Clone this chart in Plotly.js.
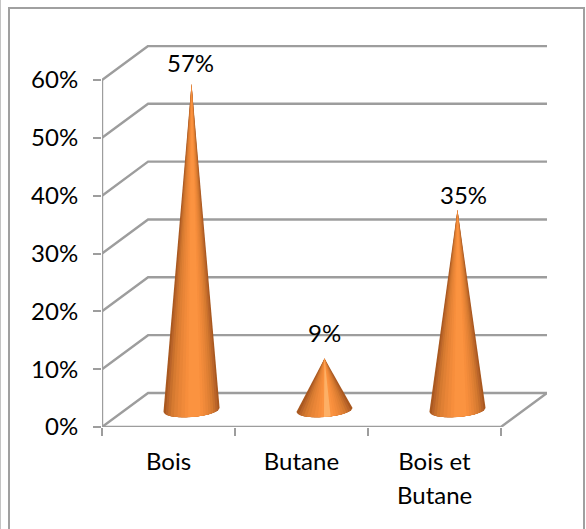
<!DOCTYPE html>
<html>
<head>
<meta charset="utf-8">
<script src="https://cdn.plot.ly/plotly-3.0.1.min.js"></script>
<style>
html,body{margin:0;padding:0;background:#fff;width:586px;height:529px;overflow:hidden}
#frame{position:absolute;left:8px;top:7px;width:573px;height:540px;border:2px solid #a0a0a0;box-sizing:content-box}
#edge{position:absolute;left:0;top:0;width:1px;height:529px;background:#c4c4c4}
#chart{position:absolute;left:0;top:0;width:586px;height:529px}
</style>
</head>
<body>
<div id="edge"></div>
<div id="frame"></div>
<div id="chart"></div>
<script>
const categoryLine1 = ['Bois', 'Butane', 'Bois et'];
const categoryLine2 = ['', '', 'Butane'];
const values = [57, 9, 35];
const yTicks = [0, 10, 20, 30, 40, 50, 60];
const yTickText = ['0%', '10%', '20%', '30%', '40%', '50%', '60%'];
const labelShiftX = [-1, 0, 6];
const labelShiftY = [21, 26, 15];

// oblique depth of the 3D box, in axis units
const depthX = 0.3465, depthY = 5.88;
const GRID = '#9d9d9d', FONT = 'Lato, Carlito, sans-serif', TXT = '#000', FS = 24;

// cone shading profile: [half-span centre offset, half-span, colour], outermost first
const shades = [
  [0, 1.00, '#a9581f'], [0.01, 0.93, '#b9642a'], [0.01, 0.85, '#c8702c'],
  [0.02, 0.76, '#d67a30'], [0.03, 0.66, '#e08034'], [0.05, 0.55, '#e98537'],
  [0.07, 0.44, '#f08a3a'], [0.09, 0.33, '#f78e3c'], [0.10, 0.22, '#fb9340']
];
const tipBoost = [null, '#fdb066', null];
const coneA = 0.211, coneB = 1.21, coneTilt = 0.35, coneK = 0.989;

const traces = [];

// gridlines and walls
const gx = [], gy = [];
yTicks.forEach(v => {
  gx.push(0, depthX, 3 + depthX, null);
  gy.push(v, v + depthY, v + depthY, null);
});
gx.push(0, 3, 3 + depthX, null, 0, 0);
gy.push(0, 0, depthY, null, 0, 60);
traces.push({x: gx, y: gy, mode: 'lines', line: {color: GRID, width: 2.4}, cliponaxis: false, hoverinfo: 'skip', showlegend: false});

// cones, painted as nested wedges sharing one apex
values.forEach((v, i) => {
  const cx = i + 0.5 + depthX / 2, cy = depthY / 2, apex = cy + v * coneK;
  const layers = shades.slice();
  if (tipBoost[i]) layers.push([0.10, 0.12, tipBoost[i]]);
  layers.forEach(s => {
    const uL = Math.max(-1, s[0] - s[1]), uR = Math.min(1, s[0] + s[1]);
    const xs = [cx], ys = [apex];
    for (let k = 0; k <= 40; k++) {
      const u = uL + (uR - uL) * k / 40;
      xs.push(cx + coneA * u);
      ys.push(cy - coneB * Math.sqrt(Math.max(0, 1 - u * u)) + coneTilt * u);
    }
    xs.push(cx); ys.push(apex);
    traces.push({x: xs, y: ys, mode: 'lines', line: {width: 0, color: s[2]}, fill: 'toself', fillcolor: s[2], hoverinfo: 'skip', showlegend: false});
  });
});

const annotations = values.map((v, i) => ({
  x: i + 0.5 + depthX / 2, y: depthY / 2 + v * coneK, xref: 'x', yref: 'y',
  text: v + '%', showarrow: false, xshift: labelShiftX[i], yshift: labelShiftY[i],
  font: {family: FONT, size: FS, color: TXT}
}));
categoryLine2.forEach((t, i) => {
  if (t) annotations.push({
    x: i + 0.5, xref: 'x', y: 0, yref: 'y', text: t, showarrow: false, yshift: -67,
    font: {family: FONT, size: FS, color: TXT}
  });
});

const layout = {
  width: 586, height: 529,
  margin: {l: 102, r: 39, t: 45, b: 102, pad: 0},
  paper_bgcolor: 'rgba(0,0,0,0)', plot_bgcolor: 'rgba(0,0,0,0)',
  showlegend: false, hovermode: false,
  font: {family: FONT, size: FS, color: TXT},
  xaxis: {
    range: [0, 3 + depthX], showgrid: false, zeroline: false, showline: false, fixedrange: true,
    tickmode: 'array', tickvals: [0.5, 1.5, 2.5], ticktext: categoryLine1, ticks: '',
    ticklabelstandoff: 18, tickfont: {family: FONT, size: FS, color: TXT},
    minor: {tickmode: 'array', tickvals: [0, 1, 2, 3], ticks: 'outside', ticklen: 8, tickwidth: 2, tickcolor: GRID, showgrid: false}
  },
  yaxis: {
    range: [0, 66.05], showgrid: false, zeroline: false, showline: false, fixedrange: true,
    tickmode: 'array', tickvals: yTicks, ticktext: yTickText, ticks: 'outside', ticklen: 8, tickwidth: 2, tickcolor: GRID,
    ticklabelstandoff: 10, tickfont: {family: FONT, size: FS, color: TXT}
  },
  annotations: annotations
};
Plotly.newPlot('chart', traces, layout, {displayModeBar: false, staticPlot: true});
</script>
</body>
</html>
